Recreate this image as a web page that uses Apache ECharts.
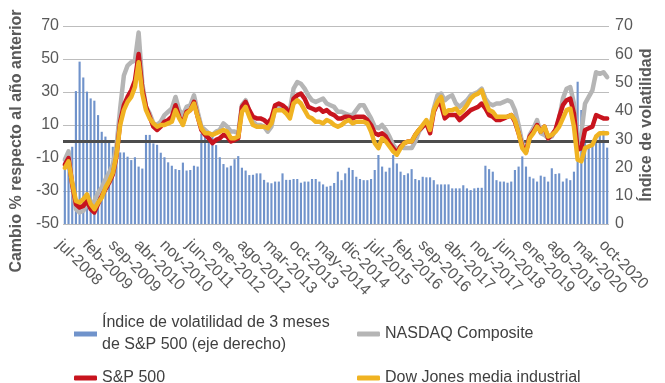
<!DOCTYPE html>
<html><head><meta charset="utf-8">
<script src="https://cdn.jsdelivr.net/npm/echarts@6/dist/echarts.min.js"></script>
<style>html,body{margin:0;padding:0;background:#fff}#c{width:665px;height:383px}</style>
</head><body><div id="c"></div>
<script>
// ---- category labels (monthly, jul-2008 .. oct-2020) ----
const monthNames = ['ene','feb','mar','abr','may','jun','jul','ago','sep','oct','nov','dic'];
const startYear = 2008, startMonthIndex = 6, monthCount = 148;
const categories = [];
for (let k = 0; k < monthCount; k++) {
  const m = (startMonthIndex + k) % 12;
  const y = startYear + Math.floor((startMonthIndex + k) / 12);
  categories.push(monthNames[m] + '-' + y);
}

// ---- tick settings ----
const leftTicks = { min: -50, max: 70, step: 20 };
const rightTicks = { min: 0, max: 70, step: 10 };

// ---- series names ----
const nameVol = 'Índice de volatilidad de 3 meses\nde S&P 500 (eje derecho)';
const nameNasdaq = 'NASDAQ Composite';
const nameSP = 'S&P 500';
const nameDow = 'Dow Jones media industrial';

// ---- values ----
const volatility = [
 22.6,23.8,27.3,47,57.4,51.8,46.8,44.4,43.6,38.5,
 32.6,30.9,28.7,27.3,25.3,25.3,25.3,23.8,22.6,23.6,
 20.3,19.6,31.5,31.5,28.5,28,25.2,23.6,21.8,20.6,
 19.4,19.1,21.7,18.9,19.1,20.6,20.3,32,31.5,31.5,
 31.5,27.9,23.6,21.2,20,20.6,22.9,24,19.9,18.9,
 17.3,17.4,17.9,17.9,15.6,14.7,14.4,15,15,17.9,
 15.6,15.6,15.9,15.9,14.6,15,15,15.9,15.9,15,
 14,13.2,13.5,14.5,18.5,15.5,17.9,19.9,19.1,16.7,
 15.9,15.5,15.5,15.9,19.1,24.4,20.3,18.5,19.9,24.4,
 21.4,18.5,17.3,17.9,19.4,15.9,15.5,16.7,16.5,16.5,
 15.5,14,14,14,14,12.6,12.6,12.6,13.7,12.6,
 12,12.6,12.8,12.8,20.6,19.4,18.5,15.5,15,15,
 14.6,15,19.1,20.3,23.9,20.3,16.7,16.1,15,17.1,
 16.7,15,19.7,17.7,17.9,15,16.1,15.5,18.5,50.3,
 40.3,29,28,29.7,31,31.4,33,27
];
const nasdaq = [
 -11,-6,-27,-41,-43,-42,-38,-40,-36,-31,
 -28,-23,-19,-14,-3,20,40,46,48,49,
 66,35,21,17,11,10,12,16,18,20,
 27,19,16,21,22,28,18,9,7,5,
 4,6,7,11,9,6,6,5,22,25,
 18,12,10,10,9,6,9,21,22,21,
 20,19,32,36,35,32,28,25,24,25,
 26,23,22,21,18,18,17,16,16,19,
 22,22,18,14,9,8,10,7,3,-2,
 -5,-3,-4,-4,-4,0,6,9,12,8,
 20,28,29,25,27,28,23,21,23,25,
 28,29,30,32,26,23,22,23,23,24,
 25,24,19,10,-1,-6,4,8,13,5,
 4,2,3,7,14,26,32,33,23,-1,
 5,23,27,31,42,41,42,39
];
const sp500 = [
 -14,-10,-26,-38,-40,-39,-36,-41,-43,-38,
 -33,-29,-25,-20,-9,12,22,27,31,37,
 53,32,21,15,9,7,9,12,13,15,
 22,15,11,18,19,24,15,7,4,2,
 -1,1,2,4,3,0,1,2,21,24,
 19,15,14,14,13,11,14,22,23,22,
 20,16,26,28,29,26,21,20,19,20,
 18,19,17,16,14,14,15,15,14,15,
 15,15,13,10,5,4,5,3,-1,-4,
 -7,-3,-1,0,0,4,7,9,11,5,
 18,23,22,14,16,16,16,13,15,17,
 19,20,21,23,20,16,15,13,13,14,
 15,16,12,5,-3,-6,3,6,10,6,
 9,2,4,7,15,22,25,26,17,-5,
 -4,7,8,9,16,15,14,14
];
const dow = [
 -16,-12,-25,-36,-37,-35,-32,-38,-41,-37,
 -34,-28,-24,-19,-8,10,19,24,27,33,
 48,29,19,14,11,9,10,10,11,12,
 19,14,10,17,19,23,15,8,5,5,
 4,5,6,7,6,2,2,3,18,21,
 15,10,9,9,9,8,11,19,19,19,
 17,14,23,25,23,19,15,14,12,12,
 11,13,12,10,9,10,12,13,11,12,
 12,12,11,6,-1,-4,2,0,-3,-6,
 -8,-4,-1,0,0,4,7,10,13,7,
 19,24,27,17,19,19,20,17,19,22,
 26,28,29,31,24,19,18,15,15,15,
 15,16,13,5,-4,-7,2,5,9,6,
 9,3,4,6,9,14,19,20,9,-11,
 -12,-4,-3,-2,3,5,5,5
];

// ---- style ----
const FONT = "'Liberation Sans', Arial, sans-serif";
const C_BAR = '#7093cb', C_GRAY = '#b5b5b5', C_RED = '#c8141e', C_YEL = '#f0b322';
const C_TXT = '#595959', C_LEG = '#404040';

const chart = echarts.init(document.getElementById('c'), null, { renderer: 'canvas' });
const lineCommon = { type: 'line', yAxisIndex: 0, symbol: 'none', z: 3,
  lineStyle: { width: 4.5, join: 'round', cap: 'round' } };
const legendCommon = { orient: 'horizontal', padding: 0, itemWidth: 23, itemHeight: 5,
  selectedMode: false, textStyle: { fontFamily: FONT, fontSize: 16, color: C_LEG, lineHeight: 22 },
  itemStyle: { borderWidth: 0 } };

chart.setOption({
  animation: false,
  backgroundColor: '#fff',
  grid: { left: 63, right: 56, top: 26, bottom: 159 },
  xAxis: {
    type: 'category', data: categories, boundaryGap: true,
    axisLine: { show: false }, axisTick: { show: false },
    axisLabel: { interval: 6, rotate: -45, margin: 13, verticalAlign: 'top',
      fontFamily: FONT, fontSize: 16, color: C_TXT }
  },
  yAxis: [
    { type: 'value', min: leftTicks.min, max: leftTicks.max, interval: leftTicks.step,
      axisLine: { show: false }, axisTick: { show: false },
      axisLabel: { margin: 4, fontFamily: FONT, fontSize: 16, color: C_TXT },
      splitLine: { lineStyle: { color: '#bdbdbd', width: 1.2 } } },
    { type: 'value', position: 'right', min: rightTicks.min, max: rightTicks.max, interval: rightTicks.step,
      axisLine: { show: false }, axisTick: { show: false }, splitLine: { show: false },
      axisLabel: { margin: 6, fontFamily: FONT, fontSize: 16, color: C_TXT } }
  ],
  legend: [
    Object.assign({}, legendCommon, { left: 74, top: 301,
      data: [{ name: nameVol, icon: 'rect', itemStyle: { color: C_BAR, borderWidth: 0 } }],
      textStyle: Object.assign({}, legendCommon.textStyle, { padding: [22, 0, 0, 0] }) }),
    Object.assign({}, legendCommon, { left: 357, top: 323,
      data: [{ name: nameNasdaq, icon: 'roundRect', itemStyle: { color: C_GRAY, borderWidth: 0 } }] }),
    Object.assign({}, legendCommon, { left: 74, top: 367,
      data: [{ name: nameSP, icon: 'roundRect', itemStyle: { color: C_RED, borderWidth: 0 } }] }),
    Object.assign({}, legendCommon, { left: 357, top: 367,
      data: [{ name: nameDow, icon: 'roundRect', itemStyle: { color: C_YEL, borderWidth: 0 } }] })
  ],
  graphic: [
    { type: 'text', x: 17, y: 141, rotation: Math.PI / 2,
      style: { text: 'Cambio % respecto al año anterior', align: 'center', verticalAlign: 'middle',
        font: 'bold 16px ' + FONT, fill: C_TXT } },
    { type: 'text', x: 647, y: 125, rotation: Math.PI / 2,
      style: { text: 'Índice de volatilidad', align: 'center', verticalAlign: 'middle',
        font: 'bold 16px ' + FONT, fill: C_TXT } }
  ],
  series: [
    { name: nameVol, type: 'bar', yAxisIndex: 1, data: volatility, barWidth: '58%', z: 1,
      itemStyle: { color: C_BAR } },
    Object.assign({}, lineCommon, { name: nameNasdaq, data: nasdaq, color: C_GRAY,
      lineStyle: Object.assign({}, lineCommon.lineStyle, { color: C_GRAY }),
      markLine: { silent: true, symbol: 'none', z: 2, label: { show: false },
        lineStyle: { color: '#4d4d4d', width: 3, type: 'solid' }, data: [{ yAxis: 0 }] } }),
    Object.assign({}, lineCommon, { name: nameSP, data: sp500, color: C_RED,
      lineStyle: Object.assign({}, lineCommon.lineStyle, { color: C_RED }) }),
    Object.assign({}, lineCommon, { name: nameDow, data: dow, color: C_YEL,
      lineStyle: Object.assign({}, lineCommon.lineStyle, { color: C_YEL }) })
  ]
});
</script></body></html>
